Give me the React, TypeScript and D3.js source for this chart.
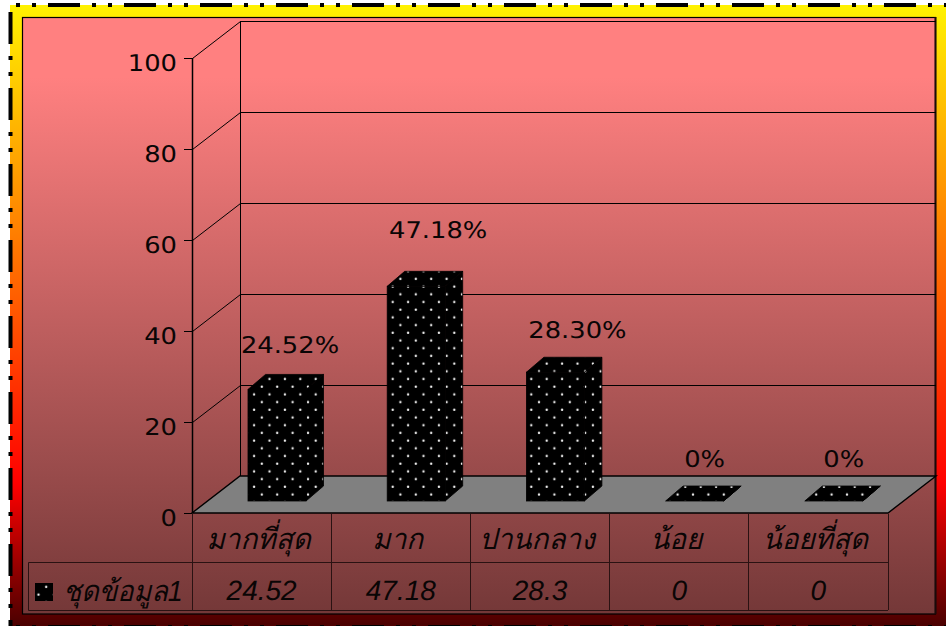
import React from "react";
import * as d3 from "d3";

const categories = ["มากที่สุด", "มาก", "ปานกลาง", "น้อย", "น้อยที่สุด"];
const values = [24.52, 47.18, 28.3, 0, 0];
const valueLabels = ["24.52%", "47.18%", "28.30%", "0%", "0%"];
const tableValues = ["24.52", "47.18", "28.3", "0", "0"];
const seriesName = "ชุดข้อมูล1";
const yTicks = [0, 20, 40, 60, 80, 100];

const W = 946;
const H = 626;
const depthX = 48;
const depthY = 37;
const barDepthX = 17.5;
const barDepthY = 15;
const barInset = 56;
const barWidth = 58;
const baselineLift = 12;
const labelShiftX = [13, 22, 22, 10, 10];
const labelLift = [45, 57, 43, 43, 43];

const x = d3.scaleBand<string>().domain(categories).range([192, 888]);
const y = d3.scaleLinear().domain([0, 100]).range([513, 58]);
const latin = "'DejaVu Sans', sans-serif";
const tableFont = "'Liberation Sans', Arial, sans-serif";
const thai = "'Liberation Sans', 'Noto Sans', sans-serif";

function Txt(props: {
  x: number; y: number; sx?: number; size?: number; italic?: boolean; anchor?: string; family?: string; children: React.ReactNode;
}) {
  const { x: px, y: py, sx = 1.12, size = 23, italic, anchor = "middle", family = latin, children } = props;
  return (
    <text
      transform={`translate(${px},${py}) scale(${sx},1)`}
      fontFamily={family}
      fontSize={size}
      fontStyle={italic ? "italic" : "normal"}
      textAnchor={anchor}
      textRendering="geometricPrecision"
      fill="#0a0505"
    >
      {children}
    </text>
  );
}

function DashedEdge() {
  const common = { stroke: "#000", strokeWidth: 4, fill: "none", strokeDasharray: "32 12 4 12 4 12" };
  return (
    <g>
      <path d={`M16,5H${W}`} strokeDashoffset={44} {...common} />
      <path d={`M10.5,12V${H}`} {...common} />
      <path d={`M16,627H${W}`} strokeDashoffset={44} {...common} />
    </g>
  );
}

export default function App() {
  const floor = `M192,513H888L${888 + depthX},${513 - depthY}H${192 + depthX}Z`;
  const backX0 = 192 + depthX;
  const backX1 = 888 + depthX;
  const bars = values.map((v, i) => {
    const x0 = (x(categories[i]) as number) + barInset;
    const x1 = x0 + barWidth;
    const bottom = 513 - baselineLift;
    const top = y(v) - baselineLift;
    return { x0, x1, bottom, top, i };
  });
  const step = x.step();
  return (
    <svg
      width={W}
      height={H}
      viewBox={`0 0 ${W} ${H}`}
      style={{ position: "fixed", left: 0, top: 0, display: "block", background: "#fff" }}
    >
      <defs>
        <linearGradient id="outerFill" x1="0" y1="0" x2="0" y2="1">
          <stop offset="0" stopColor="#fff200" />
          <stop offset="0.77" stopColor="#ff0000" />
          <stop offset="1" stopColor="#4a0000" />
        </linearGradient>
        <linearGradient id="plotFill" x1="0" y1="0" x2="0" y2="1">
          <stop offset="0" stopColor="#ff8080" />
          <stop offset="0.1" stopColor="#ff8080" />
          <stop offset="1" stopColor="#743838" />
        </linearGradient>
        <pattern id="dots" width="15.4" height="15.4" patternUnits="userSpaceOnUse">
          <rect width="15.4" height="15.4" fill="#000" />
          <circle cx="7.7" cy="9.3" r="1.2" fill="#f0f0f0" />
          <circle cx="0" cy="1.6" r="1.2" fill="#f0f0f0" />
          <circle cx="15.4" cy="1.6" r="1.2" fill="#f0f0f0" />
        </pattern>
      </defs>

      <rect x={10} y={5} width={W - 10} height={H - 5} fill="url(#outerFill)" />
      <DashedEdge />
      <rect x={22.5} y={17.5} width={913} height={596.5} fill="url(#plotFill)" stroke="#000" strokeWidth={1.2} />
      <path d={`M935.5,17V614`} stroke="#1a0a0a" strokeWidth={2} />

      {/* Back wall and left wall gridlines, snapped to whole pixels */}
      <g stroke="#000" strokeWidth={1} fill="none">
        {yTicks.slice(1).map((t) => (
          <path key={t} d={`M${192.5},${y(t) + 0.5}L${backX0 + 0.5},${y(t) - depthY + 0.5}H${backX1}`} />
        ))}
        <path d={`M${backX0 + 0.5},${y(100) - depthY}V${y(0) - depthY}`} />
        <path d={`M192.5,${y(100)}V${y(0)}`} strokeWidth={1.5} />
        {yTicks.map((t) => (
          <path key={t} d={`M184,${y(t) + 0.5}H192`} />
        ))}
      </g>

      <path d={floor} fill="#808080" stroke="#000" strokeWidth={1.4} />

      {yTicks.map((t) => (
        <Txt key={t} x={177} y={y(t) + 13} anchor="end">{t}</Txt>
      ))}

      {/* Extruded bars: front, side, top */}
      <g fill="url(#dots)" stroke="#000" strokeWidth={0.8}>
        {bars.map((b) => (
          <g key={b.i}>
            <path d={`M${b.x1},${b.bottom}L${b.x1 + barDepthX},${b.bottom - barDepthY}V${b.top - barDepthY}L${b.x1},${b.top}Z`} />
            <path d={`M${b.x0},${b.top}L${b.x0 + barDepthX},${b.top - barDepthY}H${b.x1 + barDepthX}L${b.x1},${b.top}Z`} />
            {b.top < b.bottom && <rect x={b.x0} y={b.top} width={barWidth} height={b.bottom - b.top} />}
          </g>
        ))}
      </g>

      {bars.map((b) => (
        <Txt key={b.i} x={(b.x0 + b.x1) / 2 + labelShiftX[b.i]} y={b.top - labelLift[b.i] + 9}>
          {valueLabels[b.i]}
        </Txt>
      ))}

      {/* Data table under the floor */}
      <g stroke="#2a1212" strokeWidth={1} fill="none">
        <path d="M28.5,562.5H888M28.5,610.5H888M28.5,562.5V610.5" />
        {d3.range(categories.length + 1).map((k) => (
          <path key={k} d={`M${Math.floor(192 + k * step) + 0.5},514V610`} />
        ))}
      </g>
      {categories.map((c) => (
        <Txt key={c} x={(x(c) as number) + step / 2 - 3} y={549} sx={0.96} size={29} italic family={thai}>{c}</Txt>
      ))}
      {tableValues.map((v, i) => (
        <Txt key={i} x={(x(categories[i]) as number) + step / 2} y={600} sx={1.0} size={28} italic family={tableFont}>{v}</Txt>
      ))}
      <rect x={35} y={583} width={18} height={18} fill="url(#dots)" />
      <Txt x={63} y={601} sx={0.93} size={29} italic anchor="start" family={thai}>{seriesName}</Txt>
    </svg>
  );
}
